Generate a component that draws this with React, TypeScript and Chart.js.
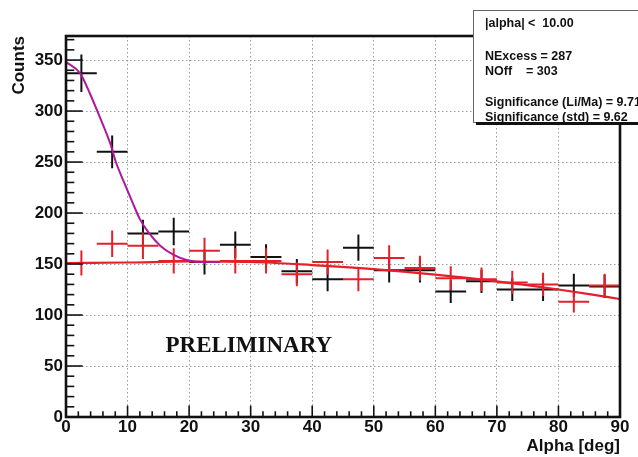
import React, { useEffect, useRef } from 'react';
import { Chart, registerables } from 'chart.js';

Chart.register(...registerables);

// ---- data ----
const binCenters = [2.5, 7.5, 12.5, 17.5, 22.5, 27.5, 32.5, 37.5, 42.5, 47.5, 52.5, 57.5, 62.5, 67.5, 72.5, 77.5, 82.5, 87.5];
const binHalfWidth = 2.5;
const onCounts = [337, 260, 180, 182, 152, 169, 157, 143, 135, 166, 144, 144, 123, 133, 125, 125, 129, 128];
const onErrors = [18.4, 16.1, 13.4, 13.5, 12.3, 13.0, 12.5, 12.0, 11.6, 12.9, 12.0, 12.0, 11.1, 11.5, 11.2, 11.2, 11.4, 11.3];
const offCounts = [151, 170, 168, 153, 163, 153, 153, 140, 152, 135, 156, 146, 136, 135, 132, 130, 113, 129];
const offErrors = [12.3, 13.0, 13.0, 12.4, 12.8, 12.4, 12.4, 11.8, 12.3, 11.6, 12.5, 12.1, 11.7, 11.6, 11.5, 11.4, 10.6, 11.4];

const signalFitX = [0, 2.3, 3.9, 5.5, 7.2, 8.1, 9.3, 10.7, 12.0, 13.4, 15.3, 17.5, 19.6, 22.3, 25];
const signalFitY = [348, 337, 317, 294, 268, 250, 232, 212, 194, 181, 168, 159, 154, 152, 152];
const bgFitX = [0, 10, 20, 30, 40, 50, 60, 70, 80, 85, 90];
const bgFitY = [151, 151.5, 152.5, 152, 149, 145, 139.6, 133, 125, 120.5, 115.7];

const xTickValues = [0, 10, 20, 30, 40, 50, 60, 70, 80, 90];
const yTickValues = [0, 50, 100, 150, 200, 250, 300, 350];

const alphaCut = '10.00';
const nExcess = 287;
const nOff = 303;
const sigLiMa = '9.71';
const sigStd = '9.62';

const X_MIN = 0;
const X_MAX = 90;
const Y_MIN = 0;
const Y_MAX = 373.6;

const SANS = '"Liberation Sans", Arial, Helvetica, sans-serif';
const SERIF = '"Liberation Serif", "Times New Roman", serif';

function crosses(values: number[], errors: number[]) {
  const pts: { x: number; y: number | null }[] = [];
  binCenters.forEach((c, i) => {
    const v = values[i];
    const e = errors[i];
    pts.push({ x: c - binHalfWidth, y: v });
    pts.push({ x: c + binHalfWidth, y: v });
    pts.push({ x: c, y: null });
    pts.push({ x: c, y: v - e });
    pts.push({ x: c, y: v + e });
    pts.push({ x: c, y: null });
  });
  return pts;
}

const framePlugin = {
  id: 'rootFrame',
  afterDatasetsDraw(chart: any) {
    const { ctx, chartArea } = chart;
    const xs = chart.scales.x;
    const ys = chart.scales.y;
    const { left, right, top, bottom } = chartArea;
    const w = right - left;
    const h = bottom - top;
    ctx.save();
    ctx.strokeStyle = '#111';
    ctx.lineWidth = 1.6;
    // y ticks
    for (let v = 0; v <= Y_MAX; v += 10) {
      const py = ys.getPixelForValue(v);
      const len = v % 50 === 0 ? 0.03 * w : 0.015 * w;
      ctx.beginPath();
      ctx.moveTo(left, py);
      ctx.lineTo(left + len, py);
      ctx.stroke();
    }
    // x ticks
    for (let v = 0; v <= X_MAX; v += 2) {
      const px = xs.getPixelForValue(v);
      const len = v % 10 === 0 ? 0.03 * h : 0.015 * h;
      ctx.beginPath();
      ctx.moveTo(px, bottom);
      ctx.lineTo(px, bottom - len);
      ctx.stroke();
    }
    // frame
    ctx.lineWidth = 2.6;
    ctx.strokeRect(left, top, w, h);

    // PRELIMINARY
    ctx.fillStyle = '#111';
    ctx.font = `bold 23px ${SERIF}`;
    ctx.textAlign = 'center';
    ctx.textBaseline = 'middle';
    ctx.fillText('PRELIMINARY', xs.getPixelForValue(29.7), ys.getPixelForValue(70));
    ctx.restore();
  },
  afterDraw(chart: any) {
    const { ctx } = chart;
    ctx.save();
    // stats box
    const bx = 473;
    const by = 10;
    const bw = 200;
    const bh = 112;
    ctx.fillStyle = '#fff';
    ctx.fillRect(bx, by, bw, bh);
    ctx.strokeStyle = '#666';
    ctx.lineWidth = 1;
    ctx.strokeRect(bx + 0.5, by + 0.5, bw, bh);
    ctx.strokeStyle = '#111';
    ctx.lineWidth = 3;
    ctx.beginPath();
    ctx.moveTo(bx + 3, by + bh + 1.5);
    ctx.lineTo(bx + bw, by + bh + 1.5);
    ctx.stroke();
    ctx.fillStyle = '#111';
    ctx.font = `bold 12.5px ${SANS}`;
    ctx.textAlign = 'left';
    ctx.textBaseline = 'alphabetic';
    const tx = 485;
    ctx.fillText(`|alpha| <  ${alphaCut}`, tx, 27);
    ctx.fillText(`NExcess = ${nExcess}`, tx, 60);
    ctx.fillText(`NOff    = ${nOff}`, tx, 75);
    ctx.fillText(`Significance (Li/Ma) = ${sigLiMa}`, tx, 106);
    ctx.fillText(`Significance (std) = ${sigStd}`, tx, 121);
    ctx.restore();
  },
};

export default function App() {
  const ref = useRef<HTMLCanvasElement | null>(null);

  useEffect(() => {
    if (!ref.current) return;
    const tickFont = { family: SANS, size: 17, weight: 'bold' as const };
    const chart = new Chart(ref.current, {
      type: 'scatter',
      data: {
        datasets: [
          {
            label: 'signal fit',
            data: signalFitX.map((x, i) => ({ x, y: signalFitY[i] })),
            showLine: true,
            borderColor: '#b0189c',
            borderWidth: 2,
            pointRadius: 0,
            cubicInterpolationMode: 'monotone',
            fill: false,
          },
          {
            label: 'background fit',
            data: bgFitX.map((x, i) => ({ x, y: bgFitY[i] })),
            showLine: true,
            borderColor: '#e5202a',
            borderWidth: 2.2,
            pointRadius: 0,
            cubicInterpolationMode: 'monotone',
            fill: false,
          },
          {
            label: 'OFF',
            data: crosses(offCounts, offErrors),
            showLine: true,
            spanGaps: false,
            borderColor: '#e5202a',
            borderWidth: 2,
            pointRadius: 0,
            tension: 0,
            borderCapStyle: 'butt',
            fill: false,
          },
          {
            label: 'ON',
            data: crosses(onCounts, onErrors),
            showLine: true,
            spanGaps: false,
            borderColor: '#111',
            borderWidth: 2,
            pointRadius: 0,
            tension: 0,
            borderCapStyle: 'butt',
            fill: false,
          },
        ],
      },
      options: {
        responsive: false,
        animation: false,
        layout: { padding: { top: 36, right: 18, left: 0, bottom: 0 } },
        plugins: {
          legend: { display: false },
          tooltip: { enabled: false },
        },
        scales: {
          x: {
            type: 'linear',
            min: X_MIN,
            max: X_MAX,
            afterFit: (s: any) => {
              s.height = 40;
            },
            afterBuildTicks: (s: any) => {
              s.ticks = xTickValues.map((v) => ({ value: v }));
            },
            ticks: {
              font: tickFont,
              color: '#111',
              padding: 0,
              maxRotation: 0,
              autoSkip: false,
            },
            grid: { color: '#9a9a9a', lineWidth: 1, drawTicks: false },
            border: { display: false, dash: [1.5, 2.5] },
            title: {
              display: true,
              text: 'Alpha [deg]',
              align: 'end',
              font: { family: SANS, size: 17, weight: 'bold' },
              color: '#111',
              padding: { top: 0, bottom: 0 },
            },
          },
          y: {
            type: 'linear',
            min: Y_MIN,
            max: Y_MAX,
            afterFit: (s: any) => {
              s.width = 66;
            },
            afterBuildTicks: (s: any) => {
              s.ticks = yTickValues.map((v) => ({ value: v }));
            },
            ticks: {
              font: tickFont,
              color: '#111',
              padding: 3,
              autoSkip: false,
            },
            grid: { color: '#9a9a9a', lineWidth: 1, drawTicks: false },
            border: { display: false, dash: [1.5, 2.5] },
            title: {
              display: true,
              text: 'Counts',
              align: 'end',
              font: { family: SANS, size: 17, weight: 'bold' },
              color: '#111',
              padding: { top: 9, bottom: 0 },
            },
          },
        },
      },
      plugins: [framePlugin],
    } as any);
    return () => chart.destroy();
  }, []);

  return (
    <div style={{ position: 'fixed', left: 0, top: 0, width: 638, height: 457, background: '#fff' }}>
      <canvas ref={ref} width={638} height={457} style={{ display: 'block', width: 638, height: 457 }} />
    </div>
  );
}
